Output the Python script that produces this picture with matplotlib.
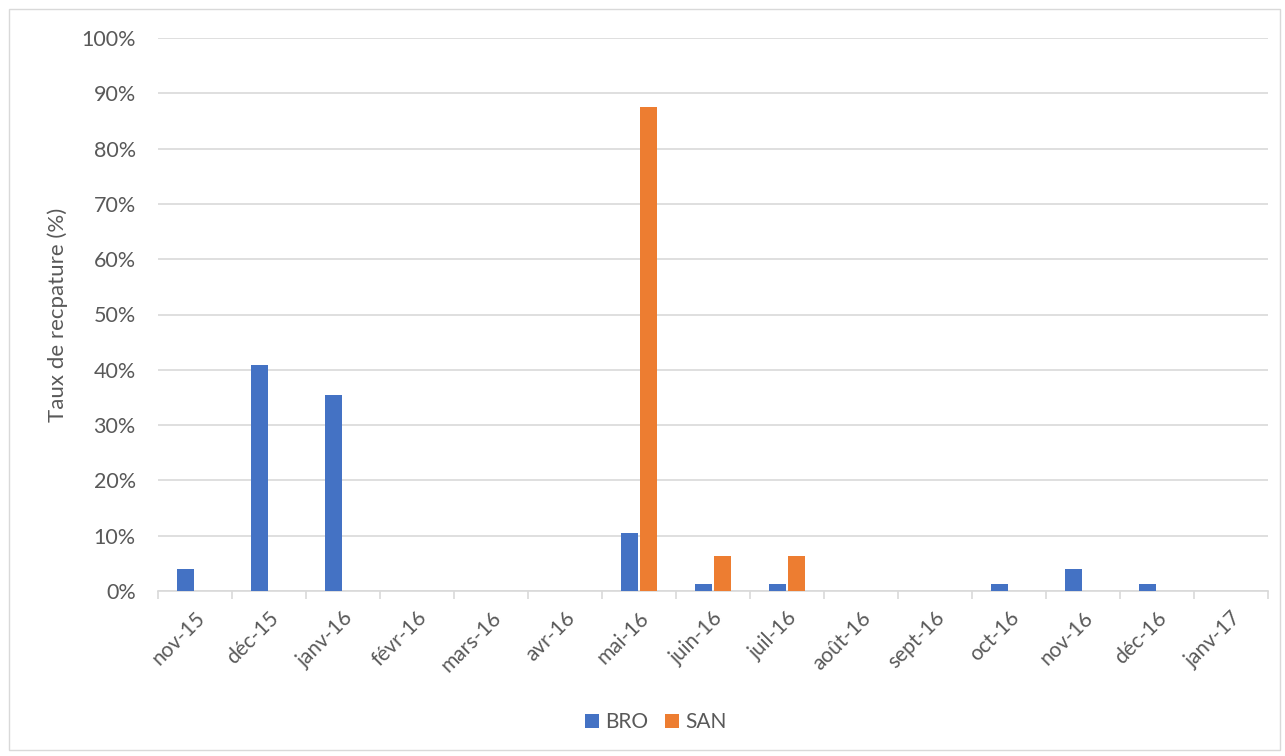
import numpy as np
import matplotlib.pyplot as plt
from matplotlib.patches import Rectangle

months = ["nov-15", "déc-15", "janv-16", "févr-16", "mars-16", "avr-16", "mai-16",
          "juin-16", "juil-16", "août-16", "sept-16", "oct-16", "nov-16", "déc-16", "janv-17"]
bro = [3.95, 40.79, 35.53, 0, 0, 0, 10.53, 1.32, 1.32, 0, 0, 1.32, 3.95, 1.32, 0]
san = [0, 0, 0, 0, 0, 0, 87.5, 6.25, 6.25, 0, 0, 0, 0, 0, 0]

plt.rcParams['font.family'] = ['Lato', 'DejaVu Sans']
grey = '#595959'

fig = plt.figure(figsize=(12.85, 7.56), dpi=100)
ax = fig.add_axes([158 / 1285, 1 - 591 / 756, 1110 / 1285, 553 / 756])

# outer chart frame
fig.patches.append(Rectangle((9 / 1285, 6 / 756), 1271 / 1285, 741 / 756,
                             transform=fig.transFigure, fill=False,
                             edgecolor='#d9d9d9', linewidth=1))

x = np.arange(len(months))
w = 0.225
ax.bar(x - 0.125, bro, w, color='#4472c4', label='BRO', zorder=3)
ax.bar(x + 0.125, san, w, color='#ed7d31', label='SAN', zorder=3)

ax.set_xlim(-0.5, len(months) - 0.5)
ax.set_ylim(0, 100)
ax.set_yticks(np.arange(0, 101, 10))
ax.set_yticklabels([f"{v}%" for v in range(0, 101, 10)])
ax.grid(axis='y', color='#d9d9d9', linewidth=1.2, zorder=0)

ax.set_xticks(x)
ax.set_xticklabels(months, rotation=45, ha='right', rotation_mode='anchor')
ax.set_xticks(np.arange(-0.5, len(months)), minor=True)
ax.tick_params(axis='x', which='major', length=0, pad=12, labelsize=15, labelcolor=grey)
ax.tick_params(axis='x', which='minor', length=6, color='#d9d9d9', width=1.2)
ax.tick_params(axis='y', length=0, pad=16, labelsize=15.5, labelcolor=grey)

for s in ['top', 'right', 'left']:
    ax.spines[s].set_visible(False)
ax.spines['bottom'].set_color('#d9d9d9')
ax.spines['bottom'].set_linewidth(1.2)

ax.set_ylabel('Taux de recpature (%)', fontsize=16, color=grey, va='center')
ax.yaxis.set_label_coords((58 - 158) / 1110, 0.5)

fig.legend(loc='center', bbox_to_anchor=(656 / 1285, 1 - 722 / 756), ncol=2, frameon=False,
           fontsize=15, labelcolor=grey, handlelength=0.67, handleheight=0.67,
           handletextpad=0.3, columnspacing=0.8)

fig.savefig('out.png', dpi=100)
